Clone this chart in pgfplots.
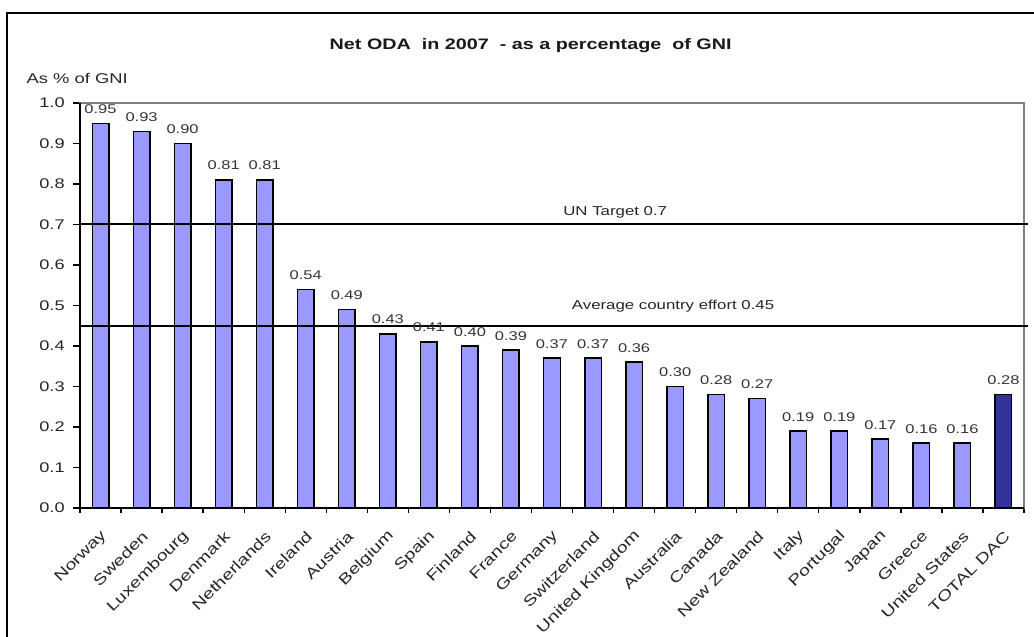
\documentclass[border=0pt]{standalone}
\usepackage{fontspec}
\setmainfont{Liberation Sans}[FakeStretch=1.3]
\usepackage{pgfplots}
\pgfplotsset{compat=1.18}
\definecolor{barlight}{HTML}{9999FF}
\definecolor{bardark}{HTML}{333399}
\pgfplotstableread{
x y
0 0.95
1 0.93
2 0.90
3 0.81
4 0.81
5 0.54
6 0.49
7 0.43
8 0.41
9 0.40
10 0.39
11 0.37
12 0.37
13 0.36
14 0.30
15 0.28
16 0.27
17 0.19
18 0.19
19 0.17
20 0.16
21 0.16
}\countries
\pgfplotstableread{
x y
22 0.28
}\total
\begin{document}
\begin{tikzpicture}[x=1pt,y=1pt]
\useasboundingbox (0,0) rectangle (775.5,477);
\draw[line width=1.2pt] (5.25,-20) rectangle (790,467.25);
\node[font=\bfseries\fontsize{11.4}{13}\selectfont, text=black!90] at (398,443) {Net ODA\ \ in 2007\ \ - as a percentage\ \ of GNI};
\node[anchor=west, font=\fontsize{10.6}{12}\selectfont, text=black!85] at (16.5,418.5) {As \% of GNI};
\begin{axis}[at={(60pt,96pt)}, anchor=south west, width=708pt, height=303.75pt, scale only axis,
  xmin=-0.5, xmax=22.5, ymin=0, ymax=1.0, clip=false,
  axis line style={draw=gray, line width=0.8pt},
  ytick={0,0.1,0.2,0.3,0.4,0.5,0.6,0.7,0.8,0.9,1.0},
  yticklabel style={xshift=-3pt, font=\fontsize{10.5}{12}\selectfont, /pgf/number format/.cd, fixed, fixed zerofill, precision=1, assume math mode=true},
  xtick={0,...,22},
  xticklabels={Norway,Sweden,Luxembourg,Denmark,Netherlands,Ireland,Austria,Belgium,Spain,Finland,France,Germany,Switzerland,United Kingdom,Australia,Canada,New Zealand,Italy,Portugal,Japan,Greece,United States,TOTAL DAC},
  xticklabel style={rotate=45, anchor=east, inner sep=1pt, xshift=-7pt, yshift=-12pt, font=\fontsize{11.2}{13}\selectfont},
  tick label style={text=black!85},
  major x tick style={draw=none},
  minor xtick={-0.5,0.5,...,22.5},
  tick align=outside, major tick length=5pt, minor tick length=3.5pt,
  tick style={black, line width=1pt},
  xtick pos=bottom, ytick pos=left,
  nodes near coords={\pgfmathprintnumber[fixed,fixed zerofill,precision=2,assume math mode=true]{\pgfplotspointmeta}},
  every node near coord/.append style={font=\fontsize{9.5}{11}\selectfont, text=black!80, yshift=3.5pt},
]
\addplot[ybar, bar width=12.4pt, bar shift=0pt, fill=barlight, draw=black, line width=1.1pt] table[x=x,y=y] {\countries};
\addplot[ybar, bar width=12.4pt, bar shift=0pt, fill=bardark, draw=black, line width=1.1pt] table[x=x,y=y] {\total};
\addplot[black, line width=1.5pt, mark=none, nodes near coords={}] coordinates {(-0.5,0.7) (22.6,0.7)};
\addplot[black, line width=1.5pt, mark=none, nodes near coords={}] coordinates {(-0.5,0.45) (22.6,0.45)};
\node[font=\fontsize{9.7}{11}\selectfont, text=black!85] at (axis cs:12.54,0.731) {UN Target 0.7};
\node[font=\fontsize{9.7}{11}\selectfont, text=black!85] at (axis cs:13.95,0.499) {Average country effort 0.45};
\draw[black, line width=1.5pt] (rel axis cs:0,1) -- (rel axis cs:0,0) -- (rel axis cs:1,0);
\end{axis}
\end{tikzpicture}
\end{document}
